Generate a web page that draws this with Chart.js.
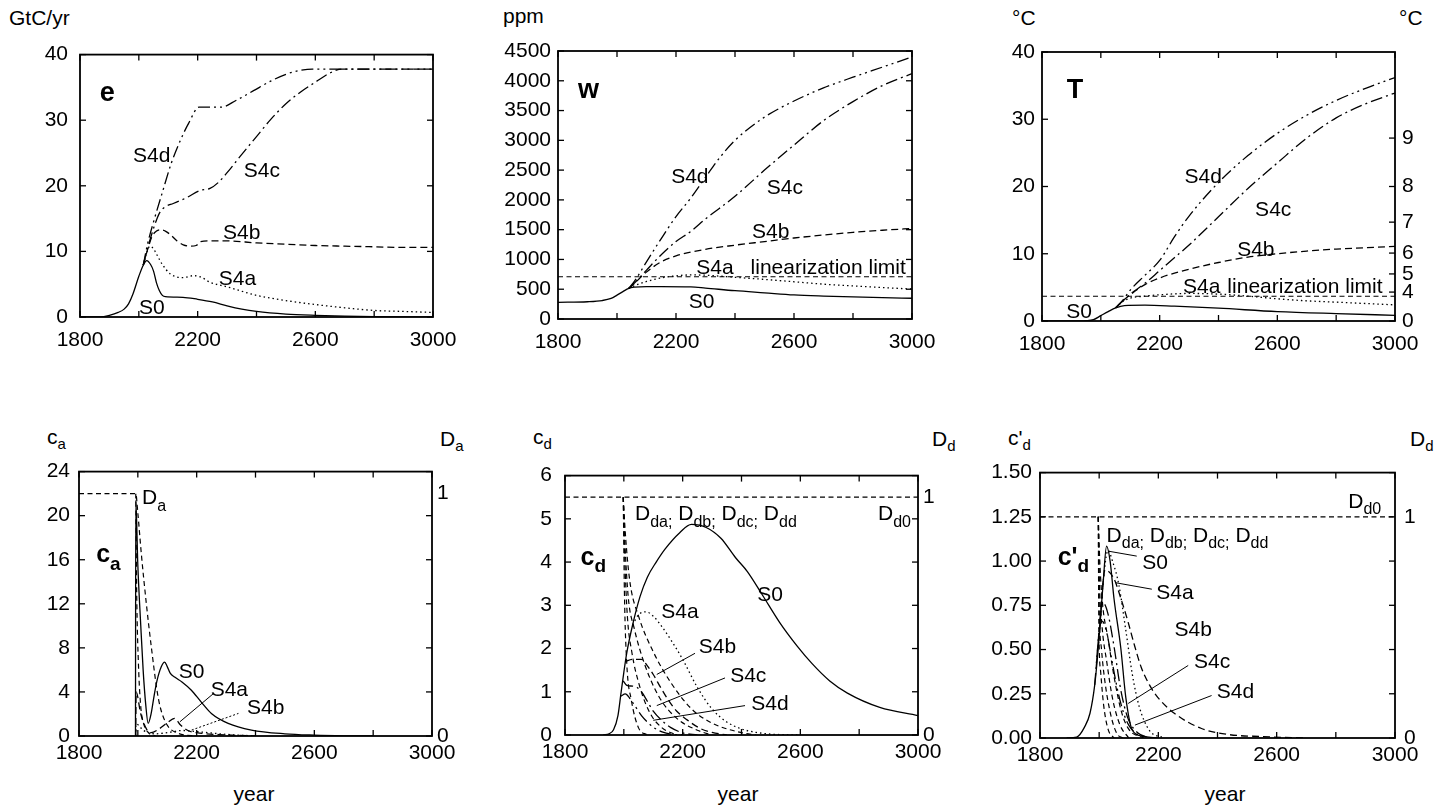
<!DOCTYPE html>
<html><head><meta charset="utf-8">
<script src="https://cdn.jsdelivr.net/npm/chart.js@4.4.0/dist/chart.umd.min.js"></script>
<style>
body{margin:0;background:#fff;width:1442px;height:812px;position:relative;overflow:hidden;font-family:"Liberation Sans",Arial,sans-serif;}
canvas{position:absolute;}
.t{position:absolute;font-size:21px;color:#000;white-space:nowrap;line-height:1;}
.t sub{font-size:15px;vertical-align:-5px;line-height:0;}
.c{transform:translateX(-50%);}
</style></head><body>
<div class="t" style="left:9px;top:7px">GtC/yr</div>
<div class="t" style="left:503px;top:5px">ppm</div>
<div class="t" style="left:1012px;top:7px">°C</div>
<div class="t" style="left:1399px;top:7px">°C</div>
<div class="t" style="left:47px;top:426px">c<sub>a</sub></div>
<div class="t" style="left:440px;top:428px">D<sub>a</sub></div>
<div class="t" style="left:533px;top:426px">c<sub>d</sub></div>
<div class="t" style="left:932px;top:428px">D<sub>d</sub></div>
<div class="t" style="left:1008px;top:427px">c'<sub>d</sub></div>
<div class="t" style="left:1410px;top:428px">D<sub>d</sub></div>
<div class="t c" style="left:254px;top:783px">year</div>
<div class="t c" style="left:738px;top:783px">year</div>
<div class="t c" style="left:1225px;top:783px">year</div>
<script>
// ---------- axis ticks ----------
const YEAR_MIN = 1800, YEAR_MAX = 3000;
const tRightTickPos = [0, 4.3, 7.0, 10.1, 14.7, 20.0, 27.2];
const tRightTickLabels = ['0', '4', '5', '6', '7', '8', '9'];
const dRightTickPos = [0, 1];
const dRightTickLabels = ['0', '1'];

// ---------- panel e : emissions (GtC/yr) ----------
const eS0Years = [1800, 1870, 1900, 1930, 1950, 1965, 1980, 2000, 2015, 2027, 2040, 2050, 2060, 2070, 2080, 2090, 2150, 2200, 2250, 2300, 2350, 2400, 2500, 2600, 2700, 2800, 3000];
const eS0 = [0, 0, 0.25, 0.7, 1.2, 2.0, 3.5, 6.2, 7.9, 8.6, 8.0, 7.0, 5.2, 4.0, 3.3, 3.1, 3.0, 2.7, 2.3, 1.7, 1.2, 0.85, 0.45, 0.25, 0.12, 0.05, 0];
const eS4aYears = [2015, 2028, 2038, 2050, 2060, 2080, 2106, 2130, 2151, 2185, 2210, 2242, 2300, 2400, 2500, 2600, 2700, 2800, 2900, 3000];
const eS4a = [7.9, 10.0, 10.8, 10.4, 9.6, 8.0, 6.6, 6.1, 6.0, 6.3, 6.1, 5.3, 4.6, 3.3, 2.5, 1.9, 1.4, 1.0, 0.85, 0.7];
const eS4bYears = [2015, 2030, 2045, 2060, 2072, 2090, 2106, 2130, 2151, 2175, 2195, 2210, 2242, 2300, 2400, 2500, 2600, 2700, 2800, 2900, 3000];
const eS4b = [7.9, 10.3, 12.3, 13.1, 13.3, 13.1, 12.6, 11.6, 11.0, 10.8, 10.9, 11.5, 11.6, 11.6, 11.3, 11.1, 10.9, 10.8, 10.7, 10.6, 10.6];
const eS4cYears = [2015, 2030, 2045, 2060, 2072, 2090, 2117, 2163, 2208, 2242, 2270, 2300, 2350, 2400, 2450, 2500, 2550, 2600, 2650, 2690, 3000];
const eS4c = [7.9, 10.5, 12.8, 14.8, 16.0, 16.8, 17.3, 18.2, 19.3, 19.6, 20.5, 22.0, 24.8, 27.5, 30.2, 32.5, 34.3, 35.8, 37.2, 37.8, 37.8];
const eS4dYears = [2015, 2030, 2050, 2080, 2110, 2140, 2170, 2205, 2280, 2330, 2390, 2450, 2500, 2550, 2590, 3000];
const eS4d = [7.9, 11.2, 14.5, 19.0, 23.4, 26.8, 29.6, 32.0, 32.0, 33.0, 34.5, 36.0, 37.0, 37.6, 37.8, 37.8];

// ---------- panel w : CO2 (ppm) ----------
const wS0Years = [1800, 1900, 1950, 1980, 2000, 2020, 2040, 2060, 2100, 2150, 2250, 2300, 2400, 2500, 2600, 2700, 2800, 2900, 3000];
const wS0 = [280, 290, 310, 345, 400, 460, 515, 535, 545, 545, 540, 520, 475, 440, 405, 385, 370, 358, 348];
const wS4aYears = [2040, 2060, 2100, 2150, 2200, 2250, 2300, 2400, 2500, 2600, 2700, 2800, 2900, 3000];
const wS4a = [515, 560, 630, 690, 725, 740, 735, 700, 665, 625, 585, 555, 528, 503];
const wS4bYears = [2040, 2060, 2080, 2100, 2150, 2200, 2300, 2400, 2500, 2600, 2700, 2800, 2900, 3000];
const wS4b = [515, 600, 700, 790, 960, 1060, 1170, 1240, 1300, 1360, 1410, 1455, 1490, 1520];
const wS4cYears = [2040, 2060, 2100, 2150, 2200, 2250, 2300, 2400, 2500, 2600, 2700, 2800, 2900, 3000];
const wS4c = [515, 610, 820, 1080, 1300, 1470, 1680, 2060, 2500, 2920, 3330, 3650, 3920, 4120];
const wS4dYears = [2040, 2060, 2100, 2150, 2200, 2250, 2300, 2350, 2400, 2500, 2600, 2700, 2800, 2900, 3000];
const wS4d = [515, 640, 960, 1350, 1720, 2030, 2380, 2720, 3000, 3390, 3660, 3880, 4060, 4230, 4400];
const wLimitYears = [1800, 3000];
const wLimit = [710, 710];

// ---------- panel T : temperature (°C) ----------
const tS0Years = [1800, 1900, 1950, 1975, 2000, 2025, 2050, 2080, 2150, 2250, 2400, 2600, 2800, 3000];
const tS0 = [0, 0, 0.05, 0.2, 0.8, 1.4, 1.95, 2.3, 2.35, 2.2, 1.9, 1.4, 1.1, 0.85];
const tS4aYears = [2050, 2075, 2100, 2150, 2200, 2300, 2400, 2500, 2600, 2700, 2800, 2900, 3000];
const tS4a = [1.95, 2.9, 3.4, 3.7, 3.9, 4.1, 4.0, 3.7, 3.3, 3.0, 2.8, 2.6, 2.4];
const tS4bYears = [2050, 2075, 2100, 2150, 2200, 2300, 2400, 2500, 2600, 2700, 2800, 2900, 3000];
const tS4b = [1.95, 3.0, 3.9, 5.4, 6.4, 7.7, 8.7, 9.5, 10.0, 10.4, 10.7, 10.9, 11.1];
const tS4cYears = [2050, 2075, 2100, 2150, 2200, 2250, 2300, 2400, 2500, 2600, 2700, 2800, 2900, 3000];
const tS4c = [1.95, 3.0, 4.0, 5.6, 7.5, 9.4, 11.3, 15.5, 19.7, 23.5, 27.2, 30.2, 32.3, 33.9];
const tS4dYears = [2050, 2075, 2100, 2150, 2200, 2250, 2300, 2400, 2500, 2600, 2700, 2800, 2900, 3000];
const tS4d = [1.95, 3.1, 4.6, 6.8, 9.0, 12.5, 15.6, 20.6, 24.6, 27.9, 30.6, 32.8, 34.6, 36.2];
const tLimitYears = [1800, 3000];
const tLimit = [3.68, 3.68];

// ---------- panel c_a ----------
const caS0Years = [1992, 1993, 2000, 2010, 2018, 2027, 2035, 2045, 2055, 2065, 2080, 2091, 2100, 2110, 2125, 2150, 2182, 2215, 2250, 2307, 2386, 2500, 2600, 2700, 2800];
const caS0 = [0, 21.4, 15.5, 10.0, 6.0, 2.8, 1.15, 2.0, 3.6, 5.0, 6.3, 6.7, 6.3, 5.7, 5.35, 4.9, 4.15, 3.1, 2.05, 1.15, 0.54, 0.2, 0.08, 0.02, 0];
const caS4aYears = [1993, 1994, 2010, 2030, 2045, 2070, 2100, 2125, 2145, 2170, 2200, 2300, 2400];
const caS4a = [0, 4.0, 2.0, 0.6, 0.3, 0.6, 1.2, 1.6, 1.0, 0.5, 0.3, 0.1, 0];
const caS4bYears = [1993, 1994, 2020, 2060, 2100, 2150, 2200, 2300, 2400];
const caS4b = [0, 1.1, 0.5, 0.2, 0.3, 0.5, 0.4, 0.15, 0];
const daS0Years = [1800, 1993, 2000, 2012, 2029, 2046, 2069, 2091, 2137, 2200];
const daS0 = [1, 1, 0.92, 0.75, 0.545, 0.366, 0.16, 0.065, 0.011, 0];
const daS4Years = [1993, 1996, 2002, 2010, 2020, 2035, 2060];
const daS4 = [1, 0.6, 0.3, 0.12, 0.05, 0.015, 0];

// ---------- panel c_d ----------
const cdS0Years = [1930, 1950, 1965, 1980, 1990, 2000, 2010, 2030, 2055, 2080, 2110, 2140, 2190, 2230, 2280, 2330, 2380, 2420, 2470, 2530, 2590, 2640, 2700, 2760, 2870, 3000];
const cdS0 = [0, 0.03, 0.12, 0.45, 0.95, 1.45, 1.9, 2.55, 3.2, 3.65, 4.0, 4.3, 4.68, 4.87, 4.8, 4.55, 4.1, 3.78, 3.25, 2.6, 2.05, 1.65, 1.25, 0.97, 0.64, 0.45];
const cdS4aYears = [2030, 2050, 2075, 2100, 2130, 2160, 2200, 2250, 2300, 2350, 2400, 2450, 2500, 2600];
const cdS4a = [2.55, 2.78, 2.85, 2.75, 2.5, 2.2, 1.75, 1.1, 0.6, 0.3, 0.14, 0.06, 0.02, 0];
const cdS4bYears = [2005, 2030, 2060, 2080, 2100, 2125, 2150, 2180, 2215, 2260, 2300, 2350];
const cdS4b = [1.7, 1.75, 1.75, 1.6, 1.4, 1.1, 0.82, 0.55, 0.35, 0.15, 0.06, 0];
const cdS4cYears = [1998, 2010, 2030, 2045, 2060, 2080, 2100, 2130, 2160, 2200, 2250];
const cdS4c = [1.25, 1.15, 1.13, 1.1, 1.0, 0.78, 0.55, 0.33, 0.17, 0.05, 0];
const cdS4dYears = [1990, 2005, 2020, 2040, 2060, 2080, 2100, 2130, 2170, 2200];
const cdS4d = [0.9, 0.95, 0.85, 0.65, 0.45, 0.3, 0.18, 0.07, 0.01, 0];
const ddD0Years = [1800, 3000];
const ddD0 = [1, 1];
const ddDaYears = [1998, 2005, 2020, 2050, 2100, 2160, 2230, 2300, 2400, 2450];
const ddDa = [1, 0.85, 0.65, 0.5, 0.35, 0.22, 0.11, 0.05, 0.01, 0];
const ddDbYears = [1998, 2004, 2015, 2035, 2070, 2120, 2180, 2250, 2300];
const ddDb = [1, 0.8, 0.58, 0.45, 0.3, 0.16, 0.07, 0.02, 0];
const ddDcYears = [1998, 2003, 2012, 2027, 2055, 2090, 2130, 2180];
const ddDc = [1, 0.75, 0.5, 0.35, 0.2, 0.09, 0.03, 0];
const ddDdYears = [1998, 2002, 2010, 2025, 2050, 2080];
const ddDd = [1, 0.6, 0.3, 0.15, 0.03, 0];

// ---------- panel c'_d ----------
const cpS0Years = [1890, 1924, 1950, 1969, 1985, 1997, 2014, 2025, 2037, 2050, 2073, 2090, 2112, 2146, 2200];
const cpS0 = [0, 0.005, 0.06, 0.14, 0.3, 0.51, 0.89, 1.084, 1.0, 0.79, 0.51, 0.23, 0.045, 0.01, 0];
const cpS4aYears = [1997, 2014, 2030, 2045, 2066, 2090, 2112, 2135, 2169, 2220];
const cpS4a = [0.51, 0.89, 1.06, 1.0, 0.87, 0.61, 0.36, 0.18, 0.045, 0];
const cpS4bYears = [2000, 2020, 2050, 2075, 2097, 2120, 2142, 2170, 2198, 2254, 2344, 2435, 2550, 2700];
const cpS4b = [0.6, 0.95, 0.9, 0.78, 0.66, 0.52, 0.4, 0.3, 0.23, 0.14, 0.055, 0.02, 0.008, 0];
const cpS4cYears = [1990, 2005, 2015, 2030, 2050, 2070, 2085, 2100, 2130, 2170];
const cpS4c = [0.4, 0.7, 0.76, 0.7, 0.52, 0.3, 0.18, 0.1, 0.03, 0];
const cpS4dYears = [1985, 2000, 2010, 2025, 2045, 2065, 2085, 2101, 2130, 2160];
const cpS4d = [0.3, 0.6, 0.66, 0.6, 0.42, 0.25, 0.13, 0.07, 0.02, 0];
const cpD0Years = [1800, 3000];
const cpD0 = [1, 1];
const cpDaYears = [1997, 2002, 2012, 2030, 2050, 2075, 2100, 2150];
const cpDa = [1, 0.8, 0.6, 0.45, 0.28, 0.12, 0.04, 0];
const cpDbYears = [1997, 2001, 2010, 2025, 2045, 2070, 2100];
const cpDb = [1, 0.7, 0.5, 0.35, 0.18, 0.06, 0];
const cpDcYears = [1997, 2000, 2008, 2020, 2040, 2060, 2080];
const cpDc = [1, 0.6, 0.4, 0.25, 0.1, 0.02, 0];
const cpDdYears = [1997, 1999, 2005, 2015, 2030, 2050];
const cpDd = [1, 0.5, 0.3, 0.15, 0.04, 0];

// ---------- styles ----------
const FONT = '"Liberation Sans", Arial, sans-serif';
const DASH = {S0: [], S4a: [1.5, 3], S4b: [7, 4], S4c: [12, 4, 2, 4], S4d: [12, 4, 2, 4, 2, 4], D: [5, 3.5]};
const pts = (xs, ys) => xs.map((x, i) => ({x, y: ys[i]}));

function drawRich(ctx, parts, x, y, size, bold, align) {
  const wt = bold ? 'bold ' : '';
  const subSize = Math.round(size * 0.75);
  let w = 0;
  parts.forEach(p => { ctx.font = wt + (p[1] ? subSize : size) + 'px ' + FONT; w += ctx.measureText(p[0]).width; });
  let cx = align === 'left' ? x : x - w / 2;
  const base = y + size * 0.36;
  ctx.textBaseline = 'alphabetic'; ctx.textAlign = 'left'; ctx.fillStyle = '#000';
  parts.forEach(p => {
    ctx.font = wt + (p[1] ? subSize : size) + 'px ' + FONT;
    ctx.fillText(p[0], cx, p[1] ? base + size * 0.3 : base);
    cx += ctx.measureText(p[0]).width;
  });
}

function makePanel(p) {
  const PADL = 80, PADR = 50, PADT = 20, PADB = 40;
  const a = p.area;
  const W = a.R - a.L + PADL + PADR, H = a.B - a.T + PADT + PADB;
  const cv = document.createElement('canvas');
  cv.width = W; cv.height = H;
  Object.assign(cv.style, {left: (a.L - PADL) + 'px', top: (a.T - PADT) + 'px', width: W + 'px', height: H + 'px'});
  document.body.appendChild(cv);
  const tickFont = {family: FONT, size: 21};
  const noGrid = {display: false, drawTicks: false, tickLength: 0};
  const scales = {
    x: {type: 'linear', min: YEAR_MIN, max: YEAR_MAX, grid: noGrid, border: {display: false},
      ticks: {stepSize: 200, autoSkip: false, maxRotation: 0, padding: p.xPad, color: '#000', font: tickFont,
        callback: v => ((v - YEAR_MIN) % 400 === 0 ? String(v) : '')},
      afterFit: s => { s.height = PADB; }},
    y: {type: 'linear', min: p.y.min, max: p.y.max, grid: noGrid, border: {display: false},
      ticks: {stepSize: p.y.step, autoSkip: false, padding: p.y.pad, color: '#000', font: tickFont,
        callback: p.y.fmt || (v => String(v))},
      afterFit: s => { s.width = PADL; }}
  };
  if (p.y2) {
    scales.y2 = {type: 'linear', position: 'right', min: p.y2.min, max: p.y2.max, grid: noGrid, border: {display: false},
      afterBuildTicks: s => { s.ticks = p.y2.ticks.map(v => ({value: v})); },
      ticks: {autoSkip: false, padding: p.y2.pad, color: '#000', font: tickFont, callback: (v, i) => p.y2.labels[i]},
      afterFit: s => { s.width = PADR; }};
  }
  const decor = {
    id: 'decor',
    afterDraw(chart) {
      const {ctx, chartArea: ca, scales: sc} = chart;
      ctx.save();
      ctx.strokeStyle = '#000'; ctx.setLineDash([]);
      const ln = (x1, y1, x2, y2) => { ctx.beginPath(); ctx.moveTo(x1, y1); ctx.lineTo(x2, y2); ctx.stroke(); };
      ctx.lineWidth = 1;
      (p.leaders || []).forEach(l => {
        ctx.setLineDash(l.dash || []);
        ln(sc.x.getPixelForValue(l.x1), sc.y.getPixelForValue(l.y1), sc.x.getPixelForValue(l.x2), sc.y.getPixelForValue(l.y2));
      });
      ctx.setLineDash([]);
      ctx.lineWidth = 1.8;
      ctx.strokeRect(ca.left, ca.top, ca.right - ca.left, ca.bottom - ca.top);
      ctx.lineWidth = 1.3;
      const TL = 6;
      sc.x.ticks.forEach(t => { const px = sc.x.getPixelForValue(t.value); ln(px, ca.bottom, px, ca.bottom - TL); ln(px, ca.top, px, ca.top + TL); });
      sc.y.ticks.forEach(t => { const py = sc.y.getPixelForValue(t.value); ln(ca.left, py, ca.left + TL, py); });
      const rs = p.rightFromY2 ? sc.y2 : sc.y;
      rs.ticks.forEach(t => { const py = rs.getPixelForValue(t.value); ln(ca.right, py, ca.right - TL, py); });
      (p.labels || []).forEach(l => {
        drawRich(ctx, l.p, sc.x.getPixelForValue(l.x), sc.y.getPixelForValue(l.y), l.size || 21, l.bold, l.align);
      });
      ctx.restore();
    }
  };
  new Chart(cv, {
    type: 'line',
    data: {datasets: p.series.map(s => ({
      data: pts(s.x, s.y), yAxisID: s.axis || 'y', borderColor: '#000', borderWidth: s.w || 1.3,
      borderDash: s.dash, pointRadius: 0, fill: false, cubicInterpolationMode: 'monotone'
    }))},
    options: {
      responsive: false, animation: false, events: [],
      layout: {padding: {left: 0, right: p.y2 ? 0 : PADR, top: PADT, bottom: 0}},
      plugins: {legend: {display: false}, tooltip: {enabled: false}},
      scales
    },
    plugins: [decor]
  });
}

const Dlist = [['D'], ['da;', 1], [' D'], ['db;', 1], [' D'], ['dc;', 1], [' D'], ['dd', 1]];

// panel e
makePanel({
  area: {L: 80, T: 50, R: 433, B: 317}, xPad: 11,
  y: {min: 0, max: 40, step: 10, pad: 12},
  series: [
    {x: eS0Years, y: eS0, dash: DASH.S0},
    {x: eS4aYears, y: eS4a, dash: DASH.S4a},
    {x: eS4bYears, y: eS4b, dash: DASH.S4b},
    {x: eS4cYears, y: eS4c, dash: DASH.S4c},
    {x: eS4dYears, y: eS4d, dash: DASH.S4d}
  ],
  labels: [
    {p: [['e']], x: 1893, y: 34.4, bold: true, size: 27},
    {p: [['S4d']], x: 2044, y: 24.8}, {p: [['S4c']], x: 2418, y: 22.5},
    {p: [['S4b']], x: 2350, y: 13.0}, {p: [['S4a']], x: 2335, y: 6.0}, {p: [['S0']], x: 2044, y: 1.55}
  ]
});

// panel w
makePanel({
  area: {L: 558, T: 51, R: 912, B: 319}, xPad: 11,
  y: {min: 0, max: 4500, step: 500, pad: 7},
  series: [
    {x: wLimitYears, y: wLimit, dash: DASH.D, w: 1.1},
    {x: wS0Years, y: wS0, dash: DASH.S0},
    {x: wS4aYears, y: wS4a, dash: DASH.S4a},
    {x: wS4bYears, y: wS4b, dash: DASH.S4b},
    {x: wS4cYears, y: wS4c, dash: DASH.S4c},
    {x: wS4dYears, y: wS4d, dash: DASH.S4d}
  ],
  labels: [
    {p: [['w']], x: 1903, y: 3874, bold: true, size: 27},
    {p: [['S4d']], x: 2247, y: 2418}, {p: [['S4c']], x: 2569, y: 2222},
    {p: [['S4b']], x: 2521, y: 1494}, {p: [['S4a']], x: 2332, y: 878},
    {p: [['linearization limit']], x: 2716, y: 878}, {p: [['S0']], x: 2287, y: 319}
  ]
});

// panel T
makePanel({
  area: {L: 1042, T: 52, R: 1395, B: 321}, xPad: 11,
  y: {min: 0, max: 40, step: 10, pad: 7},
  y2: {min: 0, max: 40, ticks: tRightTickPos, labels: tRightTickLabels, pad: 7},
  rightFromY2: true,
  series: [
    {x: tLimitYears, y: tLimit, dash: DASH.D, w: 1.1},
    {x: tS0Years, y: tS0, dash: DASH.S0},
    {x: tS4aYears, y: tS4a, dash: DASH.S4a},
    {x: tS4bYears, y: tS4b, dash: DASH.S4b},
    {x: tS4cYears, y: tS4c, dash: DASH.S4c},
    {x: tS4dYears, y: tS4d, dash: DASH.S4d}
  ],
  labels: [
    {p: [['T']], x: 1912, y: 34.6, bold: true, size: 27},
    {p: [['S4d']], x: 2348, y: 21.7}, {p: [['S4c']], x: 2586, y: 16.8},
    {p: [['S4b']], x: 2527, y: 10.8}, {p: [['S4a']], x: 2343, y: 5.35},
    {p: [['linearization limit']], x: 2694, y: 5.35}, {p: [['S0']], x: 1926, y: 1.64}
  ]
});

// panel c_a
makePanel({
  area: {L: 79, T: 470, R: 432, B: 736}, xPad: 5,
  y: {min: 0, max: 24, step: 4, pad: 9},
  y2: {min: 0, max: 24 / 22, ticks: dRightTickPos, labels: dRightTickLabels, pad: 5},
  series: [
    {x: daS0Years, y: daS0, dash: DASH.D, axis: 'y2', w: 1.2},
    {x: daS4Years, y: daS4, dash: DASH.D, axis: 'y2', w: 1.2},
    {x: caS4bYears, y: caS4b, dash: DASH.S4a},
    {x: caS4aYears, y: caS4a, dash: DASH.S4b},
    {x: caS0Years, y: caS0, dash: DASH.S0}
  ],
  leaders: [
    {x1: 2143, y1: 1.29, x2: 2257, y2: 3.85},
    {x1: 2183, y1: 0.54, x2: 2342, y2: 2.05, dash: [2, 2]}
  ],
  labels: [
    {p: [['c'], ['a', 1]], x: 1900, y: 16.6, bold: true, size: 25},
    {p: [['D'], ['a', 1]], x: 2055, y: 21.7},
    {p: [['S0']], x: 2183, y: 5.95}, {p: [['S4a']], x: 2311, y: 4.3}, {p: [['S4b']], x: 2435, y: 2.64}
  ]
});

// panel c_d
makePanel({
  area: {L: 565, T: 470, R: 918, B: 735}, xPad: 5,
  y: {min: 0, max: 6, step: 1, pad: 13},
  y2: {min: 0, max: 6 / 5.5, ticks: dRightTickPos, labels: dRightTickLabels, pad: 5},
  series: [
    {x: ddD0Years, y: ddD0, dash: DASH.D, axis: 'y2', w: 1.2},
    {x: ddDaYears, y: ddDa, dash: DASH.D, axis: 'y2', w: 1.2},
    {x: ddDbYears, y: ddDb, dash: DASH.D, axis: 'y2', w: 1.2},
    {x: ddDcYears, y: ddDc, dash: DASH.D, axis: 'y2', w: 1.2},
    {x: ddDdYears, y: ddDd, dash: DASH.D, axis: 'y2', w: 1.2},
    {x: cdS4dYears, y: cdS4d, dash: DASH.S4d},
    {x: cdS4cYears, y: cdS4c, dash: DASH.S4c},
    {x: cdS4bYears, y: cdS4b, dash: DASH.S4b},
    {x: cdS4aYears, y: cdS4a, dash: DASH.S4a},
    {x: cdS0Years, y: cdS0, dash: DASH.S0}
  ],
  leaders: [
    {x1: 2112, y1: 1.40, x2: 2242, y2: 1.89},
    {x1: 2112, y1: 0.68, x2: 2344, y2: 1.32},
    {x1: 2100, y1: 0.34, x2: 2412, y2: 0.68}
  ],
  labels: [
    {p: [['c'], ['d', 1]], x: 1896, y: 4.15, bold: true, size: 25},
    {p: Dlist, x: 2038, y: 5.14, align: 'left'},
    {p: [['D'], ['d0', 1]], x: 2864, y: 5.14, align: 'left'},
    {p: [['S0']], x: 2497, y: 3.28}, {p: [['S4a']], x: 2191, y: 2.87},
    {p: [['S4b']], x: 2318, y: 2.08}, {p: [['S4c']], x: 2423, y: 1.40}, {p: [['S4d']], x: 2497, y: 0.75}
  ]
});

// panel c'_d
makePanel({
  area: {L: 1040, T: 471, R: 1395, B: 738}, xPad: 5,
  y: {min: 0, max: 1.5, step: 0.25, pad: 8, fmt: v => v.toFixed(2)},
  y2: {min: 0, max: 1.2, ticks: dRightTickPos, labels: dRightTickLabels, pad: 9},
  series: [
    {x: cpD0Years, y: cpD0, dash: DASH.D, axis: 'y2', w: 1.2},
    {x: cpDaYears, y: cpDa, dash: DASH.D, axis: 'y2', w: 1.2},
    {x: cpDbYears, y: cpDb, dash: DASH.D, axis: 'y2', w: 1.2},
    {x: cpDcYears, y: cpDc, dash: DASH.D, axis: 'y2', w: 1.2},
    {x: cpDdYears, y: cpDd, dash: DASH.D, axis: 'y2', w: 1.2},
    {x: cpS4dYears, y: cpS4d, dash: DASH.S4d},
    {x: cpS4cYears, y: cpS4c, dash: DASH.S4c},
    {x: cpS4bYears, y: cpS4b, dash: DASH.S4b},
    {x: cpS4aYears, y: cpS4a, dash: DASH.S4a},
    {x: cpS0Years, y: cpS0, dash: DASH.S0}
  ],
  leaders: [
    {x1: 2031, y1: 1.056, x2: 2127, y2: 1.028},
    {x1: 2054, y1: 0.878, x2: 2178, y2: 0.841},
    {x1: 2098, y1: 0.195, x2: 2301, y2: 0.41},
    {x1: 2121, y1: 0.073, x2: 2380, y2: 0.24}
  ],
  labels: [
    {p: [["c'"], ['d', 1]], x: 1913, y: 1.03, bold: true, size: 25},
    {p: Dlist, x: 2025, y: 1.15, align: 'left'},
    {p: [['D'], ['d0', 1]], x: 2842, y: 1.345, align: 'left'},
    {p: [['S0']], x: 2189, y: 1.0}, {p: [['S4a']], x: 2256, y: 0.83},
    {p: [['S4b']], x: 2318, y: 0.62}, {p: [['S4c']], x: 2382, y: 0.44}, {p: [['S4d']], x: 2461, y: 0.27}
  ]
});
</script>
</body></html>
